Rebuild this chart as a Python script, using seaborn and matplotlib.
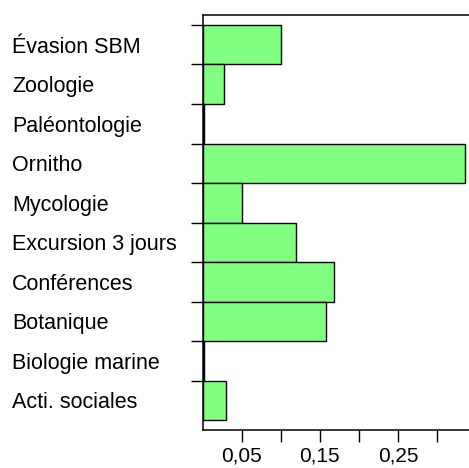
import matplotlib
matplotlib.use("Agg")
import matplotlib.pyplot as plt
import seaborn as sns
import pandas as pd

categories = ["Évasion SBM", "Zoologie", "Paléontologie", "Ornitho", "Mycologie",
              "Excursion 3 jours", "Conférences", "Botanique", "Biologie marine",
              "Acti. sociales"]
values = [0.101, 0.027, 0.0015, 0.336, 0.0505, 0.119, 0.168, 0.158, 0.002, 0.030]
xtick_values = [0.05, 0.10, 0.15, 0.20, 0.25, 0.30]
xtick_labels = ["0,05", "", "0,15", "", "0,25", ""]

sns.set_style("white")
plt.rcParams["font.family"] = ["Liberation Sans", "DejaVu Sans"]
plt.rcParams["text.color"] = "black"
plt.rcParams["xtick.color"] = "black"
plt.rcParams["ytick.color"] = "black"
plt.rcParams["xtick.labelcolor"] = "black"
plt.rcParams["ytick.labelcolor"] = "black"

df = pd.DataFrame({"cat": categories, "val": values})

fig = plt.figure(figsize=(4.69, 4.68), dpi=100)
ax = fig.add_axes([202.5 / 469, (468 - 429.5) / 468, (469 - 202.5) / 469, (429.5 - 15) / 468])

sns.barplot(data=df, x="val", y="cat", orient="h", color="#80FF80", saturation=1,
            edgecolor="black", linewidth=1.0, width=1.0, ax=ax)

ax.set_xlim(0, 0.341)
ax.set_ylim(9.74, -0.753)
ax.set_xlabel("")
ax.set_ylabel("")

# y: major ticks at bar boundaries (no labels), minor at centres with labels
ax.set_yticks([i - 0.5 for i in range(len(categories))])
ax.set_yticklabels([""] * len(categories))
ax.set_yticks(list(range(len(categories))), minor=True)
ax.set_yticklabels(categories, minor=True, fontsize=15.5, color="black")
for lbl in ax.get_yticklabels(minor=True):
    lbl.set_horizontalalignment("left")
ax.tick_params(axis="y", which="major", direction="out", length=8.6, width=1.0,
               color="black", left=True)
ax.tick_params(axis="y", which="minor", length=0, pad=137, left=True)

ax.set_xticks(xtick_values)
ax.set_xticklabels(xtick_labels, fontsize=15, color="black")
ax.tick_params(axis="x", which="major", direction="out", length=8.6, width=1.0,
               color="black", bottom=True, pad=4)

for side in ["top", "left", "bottom"]:
    ax.spines[side].set_visible(True)
    ax.spines[side].set_color("black")
    ax.spines[side].set_linewidth(1.1)
ax.spines["right"].set_visible(False)

fig.savefig("out.png", dpi=100)
